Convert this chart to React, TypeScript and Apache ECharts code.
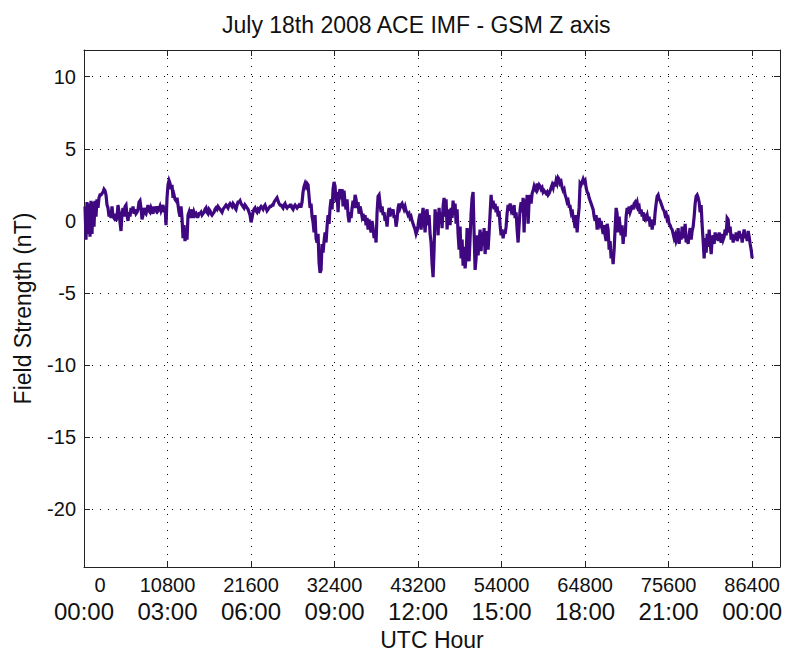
import React, { useEffect, useRef } from "react";
import * as echarts from "echarts";

const titleText = "July 18th 2008 ACE IMF - GSM Z axis";
const xAxisName = "UTC Hour";
const yAxisName = "Field Strength (nT)";

const daySeconds = 86400;
const xTickSeconds = [0, 10800, 21600, 32400, 43200, 54000, 64800, 75600, 86400];
const xTickHours = ["00:00", "03:00", "06:00", "09:00", "12:00", "15:00", "18:00", "21:00", "00:00"];
const yTickValues = [10, 5, 0, -5, -10, -15, -20];

const fieldZ = [
  1.0, -1.3, 1.3, -0.9, 1.2, -1.1, 1.4, -0.9, 1.3, -0.4,
  1.4, 0.3, 1.5, 0.9, 1.6, 1.8, 1.8, 1.9, 2.0, 2.2,
  2.1, 1.8, 1.1, 0.9, 0.3, 0.6, 0.2, 1.0, 0.3, 0.2,
  0.5, 0.0, 0.3, 1.1, 0.6, -0.1, -0.7, 0.5, 0.9, 0.3,
  1.0, 1.1, 0.4, 0.0, 0.6, 0.3, 0.9, 0.6, 1.0, 0.5,
  0.8, 0.5, 0.6, 0.8, 1.3, 1.4, 0.9, 0.1, 0.4, 0.9,
  0.6, 0.5, 0.8, 1.1, 0.7, 0.6, 0.9, 0.7, 0.5, 1.0,
  0.8, 0.7, 1.0, 0.7, 0.8, 1.0, 0.7, 0.9, 1.1, 0.6,
  1.0, -0.3, 1.6, 2.5, 2.8, 2.6, 2.2, 2.5, 1.6, 1.8,
  1.5, 1.4, 1.6, 1.1, 0.6, 0.3, 1.0, 0.2, -1.2, -0.3,
  -1.4, -0.7, -1.3, 0.4, 0.6, 0.2, 0.8, 0.5, 0.2, 0.6,
  0.4, 0.5, 0.3, 0.3, 0.5, 0.5, 0.6, 0.4, 0.5, 0.6,
  0.8, 0.9, 0.6, 0.5, 0.8, 0.7, 0.5, 0.4, 0.5, 0.6,
  0.8, 0.9, 0.8, 1.0, 0.9, 0.8, 0.7, 0.6, 0.8, 0.9,
  1.0, 1.1, 1.0, 0.9, 1.1, 1.2, 1.1, 1.0, 1.2, 1.1,
  0.9, 0.8, 1.1, 1.3, 1.3, 1.4, 1.2, 1.1, 1.0, 0.9,
  1.1, 1.0, 0.9, 0.8, 0.6, 0.4, -0.1, 0.2, 0.6, 0.8,
  0.9, 0.7, 0.6, 0.8, 0.7, 0.9, 1.0, 0.9, 0.8, 1.0,
  1.1, 0.9, 0.7, 0.8, 0.9, 1.0, 1.0, 1.1, 1.1, 1.3,
  1.4, 1.5, 1.6, 1.4, 1.2, 1.1, 1.1, 1.0, 0.9, 1.1,
  1.2, 1.0, 0.9, 1.0, 1.0, 1.1, 1.1, 0.9, 0.8, 1.0,
  1.1, 1.0, 0.9, 1.0, 1.1, 1.0, 1.0, 1.3, 2.0, 2.4,
  2.6, 2.4, 2.6, 2.5, 1.7, 0.9, 1.2, 0.3, -0.1, -0.8,
  0.4, -1.2, -1.5, -0.9, -2.9, -3.6, -3.4, -1.6, -2.2, -1.4,
  -0.8, -1.5, -0.4, 0.4, -0.2, 0.9, 1.5, 0.8, 2.2, 2.7,
  2.4, 1.3, 2.0, 0.6, 1.9, 2.2, 1.5, 2.2, 1.0, 2.1,
  1.2, 0.8, 1.5, 0.4, -0.1, 0.6, 0.2, 0.9, 1.4, 0.9,
  1.8, 1.5, 0.9, 1.3, 0.5, 1.0, 0.7, 0.3, 0.5, 0.0,
  0.4, -0.3, 0.2, -0.6, 0.1, -0.4, -0.8, 0.0, -0.5, -1.2,
  -0.8, -1.5, 0.6, 1.7, 1.8, 1.2, 0.6, 1.0, 0.4, 0.6,
  0.0, 0.2, -0.4, 0.5, 0.9, 0.3, 0.7, 0.6, 0.8, 0.2,
  0.4, -0.4, 0.1, 0.9, 1.2, 0.9, 1.1, 1.2, 1.0, 0.8,
  1.0, 0.7, 0.6, 0.4, 0.5, 0.2, 0.3, 0.0, -0.2, -0.4,
  -0.6, -0.9, -0.7, -0.3, 0.2, 0.5, -0.6, 0.3, 0.9, 0.1,
  -0.8, 0.5, 0.8, -0.3, 0.4, -0.9, -1.5, -3.0, -3.9, -2.0,
  0.8, -0.5, 0.6, -1.0, 0.9, -0.2, 0.6, -0.5, 1.0, 1.6,
  0.3, 1.5, -0.6, 0.8, 0.5, -0.3, 0.9, 0.2, 1.4, 0.4,
  1.2, -0.2, 0.8, -0.9, -2.0, -0.4, -2.6, -1.3, -3.1, -1.8,
  -3.3, -2.5, -0.5, -1.8, -2.8, -1.2, 0.5, 1.6, 2.0, -0.8,
  -3.4, -2.6, -1.0, -2.4, -1.4, -0.6, -2.1, -0.8, -1.7, -0.5,
  -2.3, -1.2, -0.7, -2.0, -0.8, 0.5, 1.8, 0.9, 1.4, 0.8,
  1.2, 0.6, 1.0, 0.3, 0.7, -0.3, -1.0, -0.6, -1.2, -0.7,
  -0.9, -0.4, 0.5, 1.1, 0.7, 1.2, 0.8, 1.0, 0.4, 1.1,
  0.2, 0.6, -0.6, -1.5, -0.3, 0.8, 1.3, 0.6, 1.6, -0.8,
  1.5, 0.5, 1.8, -0.2, 1.4, 1.8, 1.2, 1.9, 2.1, 2.4,
  2.2, 2.1, 2.6, 2.3, 2.5, 2.4, 2.2, 2.3, 2.0, 2.1,
  2.0, 1.9, 2.0, 1.8, 1.9, 2.1, 2.3, 2.5, 2.3, 2.7,
  2.4, 2.8, 2.6, 3.0, 2.9, 2.6, 2.7, 2.3, 2.1, 2.2,
  1.8, 1.6, 1.3, 1.4, 1.0, 1.0, 0.6, 0.8, 0.2, 0.0,
  -0.5, 0.4, -0.8, 0.2, 0.9, 2.6, 2.5, 2.7, 2.9, 2.7,
  2.8, 2.3, 2.0, 1.9, 1.6, 1.4, 1.2, 1.0, 0.8, 0.3,
  0.0, 0.4, -0.6, -0.1, 0.2, -0.2, 0.0, -0.5, -0.9, -0.3,
  -1.0, -1.4, -0.2, -0.6, -2.0, -1.4, -2.6, -2.2, -3.0, -2.0,
  -0.5, 0.9, 0.5, -0.8, 0.3, -0.4, -1.0, -0.3, -1.6, -0.6,
  -1.1, 0.3, 0.9, 0.5, 1.0, 0.6, 0.8, 1.1, 0.8, 1.2,
  1.3, 1.1, 1.3, 0.9, 1.0, 0.5, 0.8, 0.3, 0.6, 0.0,
  0.5, 0.2, 0.4, 0.0, 0.3, -0.4, 0.1, -0.6, -0.1, -0.3,
  0.6, 1.2, 1.7, 1.8, 1.5, 1.4, 1.2, 1.0, 0.8, 0.7,
  0.4, 0.5, 0.1, 0.2, -0.2, -0.3, -0.5, -0.6, -0.9, -1.2,
  -1.0, -1.4, -1.2, -0.5, -1.6, -0.8, -1.3, -0.4, -0.9, -1.2,
  -0.2, -1.5, -1.0, -1.6, -0.9, -0.5, -1.3, -0.7, -0.4, 0.3,
  1.2, 1.7, 1.8, 1.6, 1.3, 0.6, 1.1, -0.3, -1.4, -2.6,
  -1.2, -2.2, -0.9, -1.8, -0.6, -1.5, -2.3, -1.3, -1.0, -1.6,
  -0.8, -1.3, -0.9, -1.4, -0.8, -1.2, -1.5, -0.9, -1.3, -1.1,
  -0.6, -1.0, 0.2, 0.1, -0.8, -0.4, -1.3, -0.9, -1.5, -1.0,
  -1.3, -0.8, -1.4, -1.1, -0.7, -1.2, -0.9, -1.5, -1.0, -0.6,
  -1.2, -0.9, -1.4, -0.7, -1.1, -1.6, -2.0, -2.6,
];

const FONT = "'Liberation Sans', Arial, Helvetica, sans-serif";
const TEXT_COLOR = "#111";
const LINE_COLOR = "#3f0880";

export default function App() {
  const ref = useRef<HTMLDivElement>(null);

  useEffect(() => {
    if (!ref.current) return;
    const chart = echarts.init(ref.current, null, { renderer: "svg" });

    const step = daySeconds / fieldZ.length;
    const seriesData = fieldZ.map((v, i) => [(i + 1) * step, v]);

    const axisLineStyle = { color: "#222", width: 1 };
    const gridLineStyle = { color: "#000", width: 1, type: [1, 7] as any };

    const xRange = { min: 0, max: 90000, interval: 10800 };
    const yRange = { min: -24, max: 11.85, splitNumber: 7 };

    chart.setOption({
      animation: false,
      backgroundColor: "#fff",
      title: {
        text: titleText,
        left: 222,
        top: 13,
        padding: 0,
        textStyle: { fontSize: 23, fontWeight: "normal", fontFamily: FONT, color: TEXT_COLOR },
      },
      grid: {
        left: 84,
        right: 6,
        top: 50,
        bottom: 85,
        containLabel: false,
        outerBoundsMode: "none",
      },
      xAxis: [
        {
          type: "value",
          position: "bottom",
          ...xRange,
          axisLine: { show: true, onZero: false, lineStyle: axisLineStyle },
          axisTick: { show: true, inside: true, length: 6, lineStyle: axisLineStyle },
          splitLine: { show: true, lineStyle: gridLineStyle },
          axisLabel: {
            show: true,
            margin: 4,
            showMinLabel: true,
            showMaxLabel: false,
            hideOverlap: false,
            formatter: (value: number) => {
              const idx = xTickSeconds.indexOf(value);
              if (idx < 0) return "";
              const top = idx === 0 ? "z" : "a";
              return `{${top}|${xTickSeconds[idx]}}\n{b|${xTickHours[idx]}}`;
            },
            rich: {
              a: { fontSize: 20, lineHeight: 27, fontFamily: FONT, color: TEXT_COLOR },
              z: { fontSize: 20, lineHeight: 27, fontFamily: FONT, color: TEXT_COLOR, padding: [0, 0, 0, 32] },
              b: { fontSize: 24, lineHeight: 27, fontFamily: FONT, color: TEXT_COLOR },
            },
          },
          name: xAxisName,
          nameLocation: "middle",
          nameGap: 61,
          nameTextStyle: { fontSize: 23, lineHeight: 20, fontFamily: FONT, color: TEXT_COLOR },
        },
        {
          type: "value",
          position: "top",
          ...xRange,
          axisLine: { show: true, onZero: false, lineStyle: axisLineStyle },
          axisTick: { show: true, inside: true, length: 6, lineStyle: axisLineStyle },
          splitLine: { show: false },
          axisLabel: { show: false },
        },
      ],
      yAxis: [
        {
          type: "value",
          position: "left",
          ...yRange,
          axisLine: { show: true, onZero: false, lineStyle: axisLineStyle },
          axisTick: { show: true, inside: true, length: 6, lineStyle: axisLineStyle },
          splitLine: { show: true, lineStyle: gridLineStyle },
          axisLabel: {
            show: true,
            margin: 8,
            showMinLabel: false,
            showMaxLabel: false,
            fontSize: 20,
            fontFamily: FONT,
            color: TEXT_COLOR,
            formatter: (value: number) => (yTickValues.includes(value) ? String(value) : ""),
          },
          name: yAxisName,
          nameLocation: "middle",
          nameGap: 50,
          nameTextStyle: { fontSize: 23, fontFamily: FONT, color: TEXT_COLOR },
        },
        {
          type: "value",
          position: "right",
          ...yRange,
          axisLine: { show: true, onZero: false, lineStyle: axisLineStyle },
          axisTick: { show: true, inside: true, length: 6, lineStyle: axisLineStyle },
          splitLine: { show: false },
          axisLabel: { show: false },
        },
      ],
      series: [
        {
          type: "line",
          xAxisIndex: 0,
          yAxisIndex: 0,
          data: seriesData,
          showSymbol: false,
          symbol: "none",
          clip: true,
          lineStyle: { color: LINE_COLOR, width: 3.2, join: "miter" },
          itemStyle: { color: LINE_COLOR },
          emphasis: { disabled: true },
        },
      ],
    });

    return () => chart.dispose();
  }, []);

  return (
    <div
      ref={ref}
      style={{ position: "absolute", left: 0, top: 0, width: 786, height: 652, background: "#fff" }}
    />
  );
}
